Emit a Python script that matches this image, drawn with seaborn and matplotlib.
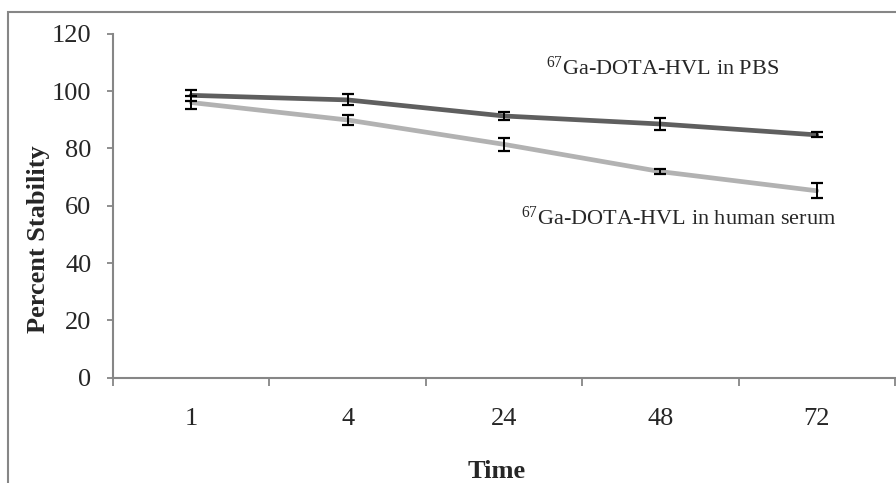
import matplotlib
matplotlib.use("Agg")
import matplotlib.pyplot as plt
from matplotlib.patches import Rectangle
import numpy as np
import pandas as pd
import seaborn as sns

# Time points (h) and percent stability
TIMES = ["1", "4", "24", "48", "72"]
PBS_MEAN = [98.5, 96.9, 91.3, 88.5, 84.7]
PBS_ERR = [2.0, 1.9, 1.5, 2.0, 0.9]
SERUM_MEAN = [96.0, 89.9, 81.4, 71.9, 65.2]
SERUM_ERR = [2.2, 1.8, 2.3, 0.9, 2.6]

COLORS = {"PBS": "#5f5f5f", "serum": "#b2b2b2"}
GRAY = "#868686"

sns.set_theme(style="white")
plt.rcParams["font.family"] = ["Liberation Serif", "DejaVu Serif"]
plt.rcParams["mathtext.fontset"] = "custom"
plt.rcParams["mathtext.rm"] = "Liberation Serif"
plt.rcParams["mathtext.it"] = "Liberation Serif:italic"
plt.rcParams["mathtext.bf"] = "Liberation Serif:bold"

df = pd.concat([
    pd.DataFrame({"time": TIMES, "stability": PBS_MEAN, "medium": "PBS"}),
    pd.DataFrame({"time": TIMES, "stability": SERUM_MEAN, "medium": "serum"}),
])

fig = plt.figure(figsize=(8.96, 4.83), dpi=100)
ax = fig.add_axes([113 / 896, 1 - 377.7 / 483, 782 / 896, 344 / 483])

sns.lineplot(data=df, x="time", y="stability", hue="medium", palette=COLORS,
             sort=False, linewidth=3.4, legend=False, ax=ax)

for mean, err in ((PBS_MEAN, PBS_ERR), (SERUM_MEAN, SERUM_ERR)):
    ax.errorbar(TIMES, mean, yerr=err, fmt="none", ecolor="black",
                elinewidth=1.4, capsize=4.2, capthick=1.6, zorder=5)

# Excel style category axis: ticks between categories, labels centred
n = len(TIMES)
ax.set_xlim(-0.5, n - 0.5)
ax.set_xticks(np.arange(n + 1) - 0.5, labels=[""] * (n + 1))
ax.set_xticks(np.arange(n), labels=TIMES, minor=True)
ax.tick_params(axis="x", which="major", direction="out", length=5.5,
               width=1.3, color=GRAY, bottom=True)
ax.tick_params(axis="x", which="minor", length=0, pad=22, labelsize=19)

ax.set_ylim(0, 120)
ax.set_yticks(range(0, 121, 20))
ax.tick_params(axis="y", direction="out", length=4.5, width=1.3,
               color=GRAY, left=True, pad=11, labelsize=19)

for side in ("top", "right"):
    ax.spines[side].set_visible(False)
for side in ("left", "bottom"):
    ax.spines[side].set_color(GRAY)
    ax.spines[side].set_linewidth(1.5)

ax.set_xlabel("Time", fontsize=19, fontweight="bold")
ax.set_ylabel("Percent Stability", fontsize=19, fontweight="bold")
ax.xaxis.set_label_coords(0.49, -0.24)
ax.yaxis.set_label_coords(-0.081, 0.403)

ax.text(2.27, 105.6, r"$^{67}$Ga-DOTA-HVL in PBS", fontsize=16,
        ha="left", va="baseline")
ax.text(2.11, 53.3, r"$^{67}$Ga-DOTA-HVL in human serum", fontsize=16,
        ha="left", va="baseline")

# outer chart frame (cropped at the right and bottom edges)
fig.add_artist(Rectangle((8 / 896, -0.05), 1.2, 1.05 - 12 / 483,
                         transform=fig.transFigure, fill=False,
                         edgecolor=GRAY, linewidth=1.5))

fig.savefig("out.png", dpi=100)
